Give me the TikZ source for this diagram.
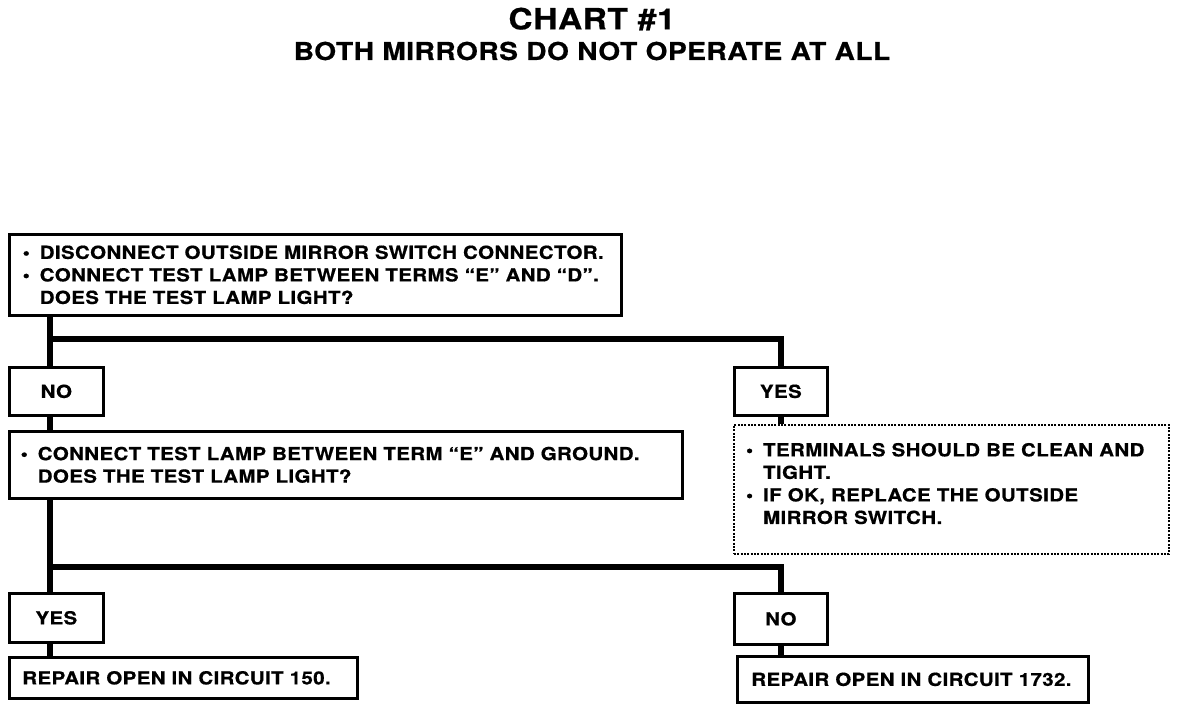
\documentclass[tikz,border=0pt]{standalone}
\usepackage{fontspec}
\setmainfont{TeX Gyre Heros}[FakeStretch=1.14, LetterSpace=2, BoldFeatures={FakeBold=0.6}]
\newcommand{\bul}{\makebox[0.95em][l]{•}}
\newcommand{\ind}{\hspace*{0.95em}}
\begin{document}
\begin{tikzpicture}[x=0.75pt,y=-0.75pt,
  font=\bfseries\fontsize{13.5}{16.9}\selectfont,
  box/.style={draw, line width=2pt, anchor=north west, inner ysep=0pt, align=left},
  sbox/.style={draw, line width=2pt, anchor=north west, inner sep=0pt},
  dbox/.style={draw, line width=1.5pt, dash pattern=on 1.5pt off 1pt, anchor=north west, inner ysep=0pt},
  conn/.style={line width=4pt}]
\useasboundingbox (0,0) rectangle (1184,708);

% titles
\node[font=\bfseries\fontsize{22}{26}\selectfont] (t1) at (592,19) {CHART \#1};
\node[font=\bfseries\fontsize{18.5}{20}\selectfont] (t2) at (592,51) {BOTH MIRRORS DO NOT OPERATE AT ALL};

% boxes
\node[box, inner xsep=10pt, text width=439pt, minimum height=60.75pt] (b1) at (8,233)
  {\bul DISCONNECT OUTSIDE MIRROR SWITCH CONNECTOR.\\
   \bul CONNECT TEST LAMP BETWEEN TERMS “E” AND “D”.\\
   \ind DOES THE TEST LAMP LIGHT?};

\node[sbox, minimum width=70.5pt, minimum height=36pt] (no1) at (8,366) {NO};
\node[sbox, minimum width=69.75pt, minimum height=36pt] (yes1) at (733,366) {YES};

\node[box, inner xsep=8.5pt, text width=487.75pt, minimum height=50.25pt] (b2) at (8,430)
  {\bul CONNECT TEST LAMP BETWEEN TERM “E” AND GROUND.\\
   \ind DOES THE TEST LAMP LIGHT?};

\node[dbox, inner xsep=9pt, inner ysep=0pt] (d) at (733,424)
  {\parbox[c][96.75pt][t]{308.25pt}{\vspace{13.5pt}\raggedright
   \bul TERMINALS SHOULD BE CLEAN AND\\
   \ind TIGHT.\\
   \bul IF OK, REPLACE THE OUTSIDE\\
   \ind MIRROR SWITCH.}};

\node[sbox, minimum width=70.5pt, minimum height=36.75pt] (yes2) at (8,592) {YES};
\node[sbox, minimum width=69.75pt, minimum height=38.25pt] (no2) at (733,592) {NO};

\node[box, inner xsep=9.75pt, text width=241.5pt, minimum height=30.75pt] (r1) at (8,656)
  {REPAIR OPEN IN CIRCUIT 150.};
\node[box, inner xsep=10.5pt, text width=242.25pt, minimum height=34.5pt] (r2) at (736,655)
  {REPAIR OPEN IN CIRCUIT 1732.};

% connectors
\coordinate (j1) at (50,339);
\coordinate (j2) at (50,567);
\draw[conn] (b1.south -| j1) -- (no1.north -| j1);
\draw[conn] (j1) -| (yes1.north);
\draw[conn] (no1.south -| j1) -- (b2.north -| j1);
\draw[conn] (yes1.south) -- (d.north -| yes1.south);
\draw[conn] (b2.south -| j2) -- (yes2.north -| j2);
\draw[conn] (j2) -| (no2.north);
\draw[conn] (yes2.south -| j2) -- (r1.north -| j2);
\draw[conn] (no2.south) -- (r2.north -| no2.south);
\end{tikzpicture}
\end{document}
